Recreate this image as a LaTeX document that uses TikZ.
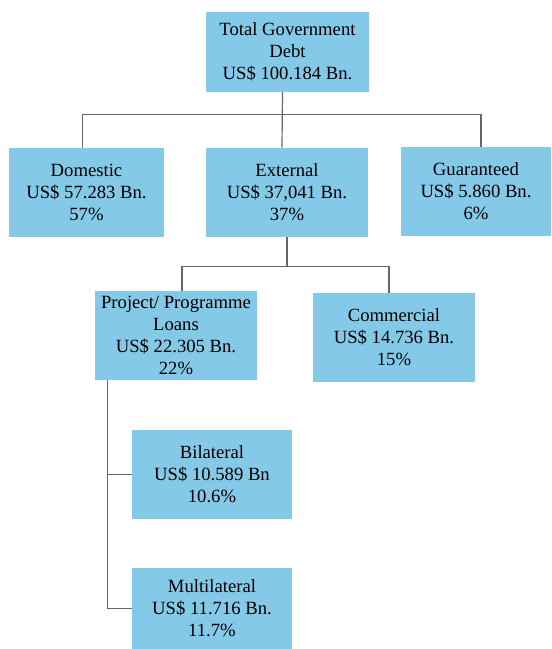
\documentclass[tikz,border=0pt]{standalone}
\usepackage{fontspec}
\setmainfont{Liberation Serif}
\usepackage{tikz}
\usetikzlibrary{calc,positioning}
\definecolor{debtblue}{RGB}{133,201,233}
\definecolor{linkgrey}{RGB}{112,100,96}

\begin{document}
\begin{tikzpicture}[
    x=0.75pt, y=-0.75pt,
    font=\fontsize{14}{16.5}\selectfont,
    debtbox/.style={fill=debtblue, align=center, inner sep=0pt, minimum height=66.75pt, minimum width=121.5pt},
    link/.style={draw=linkgrey, line width=0.9pt}
  ]
    \useasboundingbox (0,0) rectangle (551,649);

    \node[debtbox, minimum width=122.25pt, minimum height=60pt] (total) at (287.5,52) {Total Government\\Debt\\US\$ 100.184 Bn.};
    \node[debtbox, minimum width=116.25pt] (domestic) at (86.5,192.5) {Domestic\\US\$ 57.283 Bn.\\57\%};
    \node[debtbox] (external) at (287,192.5) {External\\US\$ 37,041 Bn.\\37\%};
    \node[debtbox, minimum width=112.5pt] (guaranteed) at (476,191.5) {Guaranteed\\US\$ 5.860 Bn.\\6\%};
    \node[debtbox] (project) at (176,335.5) {Project/ Programme\\Loans\\US\$ 22.305 Bn.\\22\%};
    \node[debtbox] (commercial) at (394,337.5) {Commercial\\US\$ 14.736 Bn.\\15\%};
    \node[debtbox, minimum width=120pt] (bilateral) at (212,474.5) {Bilateral\\US\$ 10.589 Bn\\10.6\%};
    \node[debtbox, minimum width=120pt, minimum height=60.75pt] (multilateral) at (212,608.5) {Multilateral\\US\$ 11.716 Bn.\\11.7\%};

    % first level
    \draw[link] ($(total.south)+(-5,0)$) -- ($(external.north)+(-5,0)$);
    \draw[link] ($(total.south)+(-5,0)$) -- ++(0,22) -| ($(domestic.north)+(-4,0)$);
    \draw[link] ($(total.south)+(-5,0)$) -- ++(0,22) -| ($(guaranteed.north)+(5,0)$);

    % external split
    \draw[link] (external.south) -- ++(0,29) -| ($(project.north)+(6,0)$);
    \draw[link] (external.south) -- ++(0,29) -| ($(commercial.north)+(-5,0)$);

    % project loans
    \coordinate (trunk) at ($(project.south west)+(13,0)$);
    \draw[link] (trunk) |- (bilateral.west);
    \draw[link] (trunk) |- (multilateral.west);
  \end{tikzpicture}
\end{document}
